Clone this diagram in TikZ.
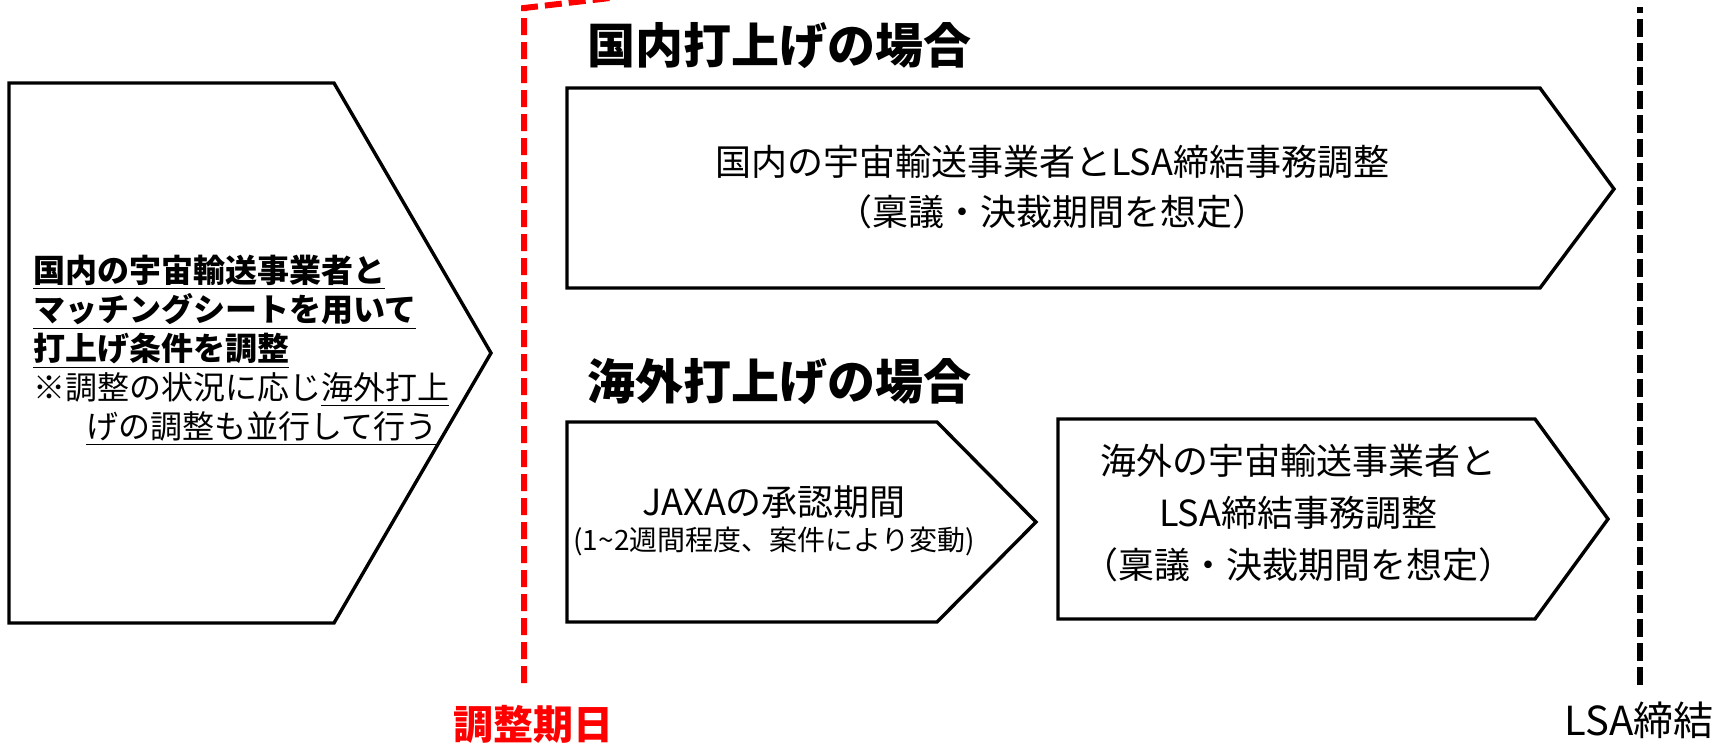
\documentclass[tikz,border=0pt]{standalone}
\usepackage{fontspec}
\setmainfont{Noto Sans CJK JP}
\definecolor{deadline}{RGB}{255,0,0}

\begin{document}
\begin{tikzpicture}[x=0.5pt,y=-0.5pt,
    flowbox/.style={draw=black, line width=1.7pt, line join=miter},
    boxtext/.style={align=center, inner sep=0pt, font=\fontsize{18pt}{26pt}\selectfont},
    headtext/.style={anchor=west, inner sep=0pt, font=\fontsize{24pt}{28pt}\selectfont\bfseries},
    marker/.style={line width=3pt, dash pattern=on 8.5pt off 3.5pt}]
    % page size of the reference (1719 x 746 px)
    \useasboundingbox (0,0) rectangle (1719,746);

    % left: preliminary coordination
    \draw[flowbox] (9,83) -- (334,83) -- (491,353) -- (334,623) -- (9,623) -- cycle;
    \node[anchor=north west, align=left, inner sep=0pt,
          font=\fontsize{16pt}{19.5pt}\selectfont] (prep) at (33,255) {%
        \textbf{\underline{国内の宇宙輸送事業者と}}\\
        \textbf{\underline{マッチングシートを用いて}}\\
        \textbf{\underline{打上げ条件を調整}}\\
        ※調整の状況に応じ\underline{海外打上}\\
        \hspace*{26.5pt}\underline{げの調整も並行して行う}};

    % deadline line
    \coordinate (dlbot) at (524,683);
    \coordinate (dltop) at (524,8);
    \draw[marker, deadline] (dlbot) -- (dltop) -- (610,-2);
    \node[text=deadline, font=\fontsize{20pt}{24pt}\selectfont\bfseries] (dllabel) at (533,724) {調整期日};

    % domestic launch
    \node[headtext] (domhead) at (587,46) {国内打上げの場合};
    \draw[flowbox] (567,88) -- (1540,88) -- (1614,189) -- (1540,288) -- (567,288) -- cycle;
    \node[boxtext, font=\fontsize{18pt}{25pt}\selectfont] (domlsa) at (1052,187) {%
        国内の宇宙輸送事業者とLSA締結事務調整\\（稟議・決裁期間を想定）};

    % overseas launch
    \node[headtext] (ovshead) at (587,382) {海外打上げの場合};
    \draw[flowbox] (567,422) -- (937,422) -- (1036,522) -- (937,622) -- (567,622) -- cycle;
    \node[align=center, inner sep=0pt] (jaxa) at (774,521) {%
        {\fontsize{18pt}{21pt}\selectfont JAXAの承認期間}\\[3pt]
        {\fontsize{14pt}{17pt}\selectfont (1\textasciitilde2週間程度、案件により変動)}};
    \draw[flowbox] (1058,419) -- (1535,419) -- (1608,519) -- (1535,619) -- (1058,619) -- cycle;
    \node[boxtext] (ovslsa) at (1298,513) {%
        海外の宇宙輸送事業者と\\LSA締結事務調整\\（稟議・決裁期間を想定）};

    % LSA line
    \coordinate (lsabot) at (1640,685);
    \coordinate (lsatop) at (1640,7);
    \draw[marker, black, dash pattern=on 9pt off 3pt] (lsabot) -- (lsatop);
    \node[anchor=east, inner sep=0pt, font=\fontsize{20pt}{24pt}\selectfont] (lsalabel) at (1714,720) {LSA締結};
\end{tikzpicture}
\end{document}
